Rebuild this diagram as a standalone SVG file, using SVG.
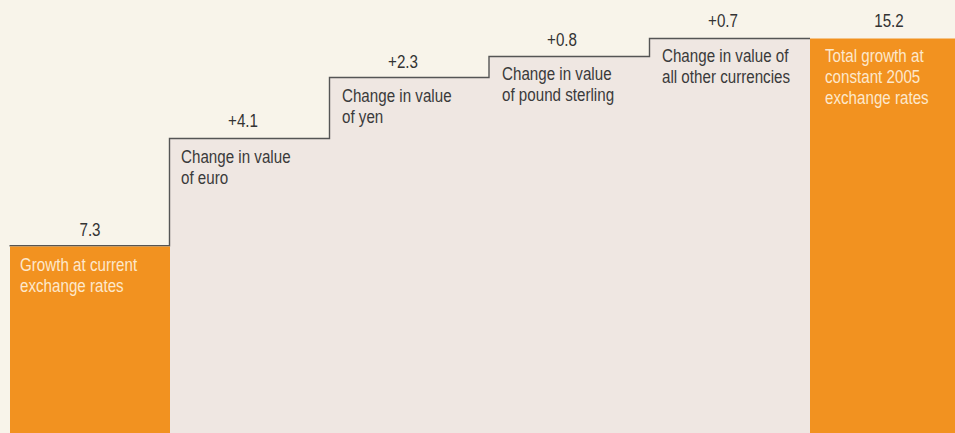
<svg xmlns="http://www.w3.org/2000/svg" width="955" height="433" viewBox="0 0 955 433">
<style>
text{font-family:"Liberation Sans",Arial,sans-serif;font-size:18.5px}
.t{transform:scale(0.82,1)}
.v{fill:#333333;text-anchor:middle}
.d{fill:#3a3a3a}
.w{fill:#fde8cc}
.bar{fill:#f29220}
</style>
<rect width="955" height="433" fill="#f8f4ea"/>
<g id="steps">
<path d="M170,246 V138.5 H329.5 V77.5 H489 V56.5 H649.5 V38.5 H810 V433 H170 Z" fill="#efe7e2"/>
</g>
<g id="connectors">
<path d="M9.5,245.8 H169.5 V138.5 H329.5 V77.5 H489 V56.5 H649.5 V38.5 H810" fill="none" stroke="#555555" stroke-width="1.4"/>
</g>
<g id="current">
<rect class="bar" x="10" y="246.5" width="160" height="186.5"/>
<g class="t">
<text class="v" x="109.76" y="236">7.3</text>
<text class="w" x="24.39" y="271">Growth at current</text>
<text class="w" x="24.39" y="292">exchange rates</text>
</g>
</g>
<g id="euro" class="t">
<text class="v" x="296.34" y="127">+4.1</text>
<text class="d" x="220.73" y="163">Change in value</text>
<text class="d" x="220.73" y="184">of euro</text>
</g>
<g id="yen" class="t">
<text class="v" x="491.46" y="68">+2.3</text>
<text class="d" x="417.07" y="102">Change in value</text>
<text class="d" x="417.07" y="123">of yen</text>
</g>
<g id="pound" class="t">
<text class="v" x="685.37" y="46">+0.8</text>
<text class="d" x="612.20" y="80">Change in value</text>
<text class="d" x="612.20" y="101">of pound sterling</text>
</g>
<g id="other" class="t">
<text class="v" x="881.71" y="27">+0.7</text>
<text class="d" x="807.32" y="62">Change in value of</text>
<text class="d" x="807.32" y="83">all other currencies</text>
</g>
<g id="total">
<rect class="bar" x="810" y="38.5" width="145" height="394.5"/>
<g class="t">
<text class="v" x="1084.15" y="27">15.2</text>
<text class="w" x="1006.10" y="62">Total growth at</text>
<text class="w" x="1006.10" y="83">constant 2005</text>
<text class="w" x="1006.10" y="104">exchange rates</text>
</g>
</g>
</svg>
